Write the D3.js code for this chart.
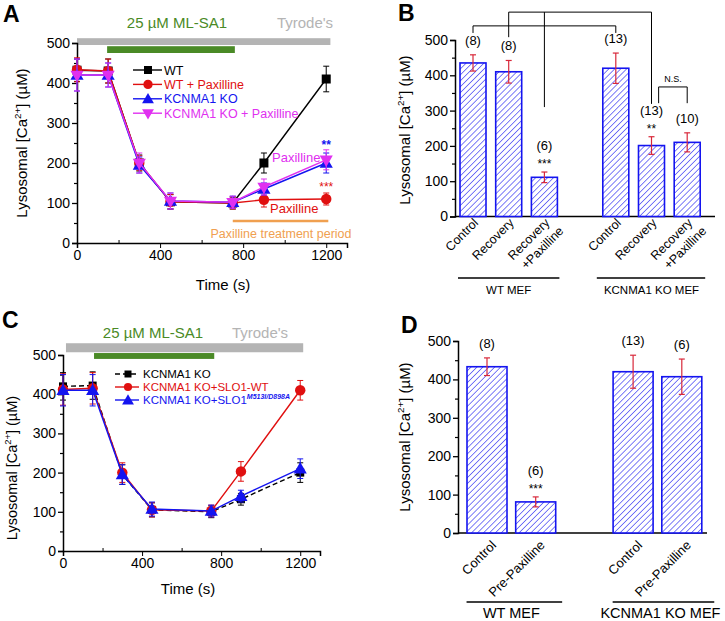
<!DOCTYPE html>
<html><head><meta charset="utf-8">
<script src="https://cdn.jsdelivr.net/npm/d3@7"></script>
<style>
body{margin:0;background:#fff;}
svg{font-family:"Liberation Sans",Arial,sans-serif;}
</style></head>
<body>
<svg id="c" width="725" height="621"></svg>
<script>
// ---------- DATA ----------
const timeA = [0,150,300,450,750,900,1200];
const aWT      = [432,430,200,103,100,200,410];
const aWTerr   = [28,30,20,18,15,25,32];
const aWTPax   = [433,430,200,103,100,108,110];
const aWTPaxErr= [30,30,18,18,15,18,15];
const aKO      = [420,420,195,105,102,135,200];
const aKOerr   = [40,30,20,20,15,15,25];
const aKOPax   = [420,420,200,105,102,140,208];
const aKOPaxErr= [40,30,25,20,15,20,25];

const timeC = [0,150,300,450,750,900,1200];
const cKO     = [420,422,195,105,100,132,200];
const cKOerr  = [35,35,25,18,15,15,25];
const cWT     = [412,415,200,105,102,203,410];
const cWTerr  = [40,40,25,18,15,25,25];
const cMut    = [410,410,195,107,102,140,210];
const cMutErr = [40,40,25,18,15,15,25];

const bCats   = ["Control","Recovery","Recovery|+Paxilline","Control","Recovery","Recovery|+Paxilline"];
const bSlots  = [0,1,2,4,5,6];
const bVals   = [435,410,111,420,201,210];
const bErr    = [23,32,15,43,25,27];
const bN      = ["(8)","(8)","(6)","(13)","(13)","(10)"];
const bStars  = ["","","***","","**",""];

const dCats   = ["Control","Pre-Paxilline","Control","Pre-Paxilline"];
const dSlots  = [0,1,3,4];
const dVals   = [433,81,420,407];
const dErr    = [23,13,43,46];
const dN      = ["(8)","(6)","(13)","(6)"];
const dStars  = ["","***","",""];

const yTicks = [0,100,200,300,400,500];
const xTicks = [0,400,800,1200];

// ---------- COLORS ----------
const BLUE="#1414f0", RED="#e01010", MAG="#e030f0", BLACK="#000", GREEN="#4a8a26", GRAY="#b4b4b4", ORANGE="#f0a050", ERR="#d8283a";

const svg = d3.select("#c");
const defs = svg.append("defs");
const pat = defs.append("pattern").attr("id","hatch").attr("patternUnits","userSpaceOnUse")
  .attr("width",4.2).attr("height",4.2).attr("patternTransform","rotate(45)");
pat.append("rect").attr("width",4.2).attr("height",4.2).attr("fill","#fff");
pat.append("line").attr("x1",0).attr("y1",0).attr("x2",0).attr("y2",4.2).attr("stroke",BLUE).attr("stroke-width",1.1);

function ylabel(g, x, y, size){
  const t = g.append("text").attr("transform",`translate(${x},${y}) rotate(-90)`)
    .attr("text-anchor","middle").attr("font-size",size);
  t.append("tspan").text("Lysosomal [Ca");
  t.append("tspan").attr("font-size",size*0.65).attr("dy",-size*0.4).text("2+");
  t.append("tspan").attr("dy",size*0.4).text("] (\u00b5M)");
}

function yAxis(g, y, x0, fs){
  const ax = d3.axisLeft(y).tickValues(yTicks).tickSize(5).tickPadding(2);
  const ga = g.append("g").attr("transform",`translate(${x0},0)`).call(ax);
  ga.select(".domain").attr("stroke-width",1.5);
  ga.selectAll(".tick line").attr("stroke-width",1.3);
  ga.selectAll("text").attr("font-size",fs).attr("font-family","Liberation Sans, Arial").attr("fill","#000");
  const minor = d3.axisLeft(y).tickValues([50,150,250,350,450]).tickSize(3).tickFormat("");
  const gm = g.append("g").attr("transform",`translate(${x0},0)`).call(minor);
  gm.select(".domain").remove();
  gm.selectAll(".tick line").attr("stroke-width",1.2);
}

function marker(g, shape, x, y, color, size){
  if(shape==="sq") g.append("rect").attr("x",x-size/2).attr("y",y-size/2).attr("width",size).attr("height",size).attr("fill",color);
  else if(shape==="ci") g.append("circle").attr("cx",x).attr("cy",y).attr("r",size*0.58).attr("fill",color);
  else {
    const s = d3.symbol().type(d3.symbolTriangle).size(size*size*0.75)();
    g.append("path").attr("d",s).attr("transform",`translate(${x},${y+ (shape==="td"?-0.5:1)}) rotate(${shape==="td"?180:0})`).attr("fill",color);
  }
}

function series(g, x, y, t, v, e, color, shape, size, dash, errColor){
  const line = d3.line().x((d,i)=>x(t[i])).y(d=>y(d));
  g.append("path").datum(v).attr("d",line).attr("fill","none").attr("stroke",color).attr("stroke-width",1.4)
    .attr("stroke-dasharray",dash||null);
  v.forEach((d,i)=>{
    const cx=x(t[i]);
    const eg=g.append("g").attr("stroke",errColor||color).attr("stroke-width",1);
    eg.append("line").attr("x1",cx).attr("x2",cx).attr("y1",y(d-e[i])).attr("y2",y(d+e[i]));
    eg.append("line").attr("x1",cx-3).attr("x2",cx+3).attr("y1",y(d-e[i])).attr("y2",y(d-e[i]));
    eg.append("line").attr("x1",cx-3).attr("x2",cx+3).attr("y1",y(d+e[i])).attr("y2",y(d+e[i]));
  });
  v.forEach((d,i)=>marker(g,shape,x(t[i]),y(d),color,size));
}

function lineAxesX(g, x, yPos, fs){
  const ax = d3.axisBottom(x).tickValues(xTicks).tickSize(5).tickPadding(2).tickFormat(d3.format("d"));
  const ga = g.append("g").attr("transform",`translate(0,${yPos})`).call(ax);
  ga.select(".domain").attr("stroke-width",1.5);
  ga.selectAll("text").attr("font-size",fs).attr("font-family","Liberation Sans, Arial").attr("fill","#000");
  const minor = d3.axisBottom(x).tickValues([200,600,1000]).tickSize(-3).tickFormat("");
  const gm = g.append("g").attr("transform",`translate(0,${yPos})`).call(minor);
  gm.select(".domain").remove();
}

// ================= PANEL A =================
(function(){
  const g = svg.append("g");
  const x = d3.scaleLinear().domain([0,1300]).range([77,347]);
  const y = d3.scaleLinear().domain([0,500]).range([243,43]);
  g.append("text").attr("x",3).attr("y",22).attr("font-size",23).attr("font-weight","bold").text("A");
  g.append("rect").attr("x",x(0)).attr("y",y(512)).attr("width",x(1220)-x(0)).attr("height",y(495)-y(512)).attr("fill",GRAY);
  g.append("rect").attr("x",x(145)).attr("y",y(492)).attr("width",x(760)-x(145)).attr("height",y(475)-y(492)).attr("fill",GREEN);
  g.append("text").attr("x",177).attr("y",28).attr("text-anchor","middle").attr("font-size",15).attr("fill",GREEN).text("25 \u00b5M ML-SA1");
  g.append("text").attr("x",305).attr("y",28).attr("text-anchor","middle").attr("font-size",15).attr("fill",GRAY).text("Tyrode's");
  yAxis(g,y,77,14);
  lineAxesX(g,x,243,14);
  ylabel(g,27,143,15);
  g.append("text").attr("x",223).attr("y",290).attr("text-anchor","middle").attr("font-size",15).text("Time (s)");
  series(g,x,y,timeA,aWT,aWTerr,BLACK,"sq",9);
  series(g,x,y,timeA,aWTPax,aWTPaxErr,RED,"ci",9);
  series(g,x,y,timeA,aKO,aKOerr,BLUE,"tu",10);
  series(g,x,y,timeA,aKOPax,aKOPaxErr,MAG,"td",10);
  const leg=[["WT",BLACK,"sq"],["WT + Paxilline",RED,"ci"],["KCNMA1 KO",BLUE,"tu"],["KCNMA1 KO + Paxilline",MAG,"td"]];
  leg.forEach((l,i)=>{
    const yy=70+i*14.4;
    g.append("line").attr("x1",133).attr("x2",162).attr("y1",yy).attr("y2",yy).attr("stroke",l[1]).attr("stroke-width",1.4);
    marker(g,l[2],148,yy,l[1],l[2]==="ci"?8:(l[2]==="sq"?8:9));
    g.append("text").attr("x",164).attr("y",yy+4.5).attr("font-size",12.5).attr("fill",l[1]===BLACK?"#000":l[1]).text(l[0]);
  });
  g.append("text").attr("x",x(1200)).attr("y",149).attr("text-anchor","middle").attr("font-size",12).attr("font-weight","bold").attr("fill",BLUE).text("**");
  g.append("text").attr("x",272).attr("y",162).attr("font-size",13).attr("fill",MAG).text("Paxilline");
  g.append("text").attr("x",x(1200)).attr("y",191).attr("text-anchor","middle").attr("font-size",12).attr("fill",RED).text("***");
  g.append("text").attr("x",270).attr("y",213).attr("font-size",13).attr("fill",RED).text("Paxilline");
  g.append("line").attr("x1",x(750)).attr("x2",x(1210)).attr("y1",221).attr("y2",221).attr("stroke",ORANGE).attr("stroke-width",2.5);
  g.append("text").attr("x",281).attr("y",238).attr("text-anchor","middle").attr("font-size",12.5).attr("fill",ORANGE).text("Paxilline treatment period");
})();

// ================= PANEL C =================
(function(){
  const g = svg.append("g");
  const x = d3.scaleLinear().domain([0,1300]).range([63,320]);
  const y = d3.scaleLinear().domain([0,500]).range([551,355]);
  g.append("text").attr("x",2).attr("y",328).attr("font-size",23).attr("font-weight","bold").text("C");
  g.append("rect").attr("x",x(15)).attr("y",y(530)).attr("width",x(1215)-x(15)).attr("height",y(507)-y(530)).attr("fill",GRAY);
  g.append("rect").attr("x",x(157)).attr("y",y(505)).attr("width",x(765)-x(157)).attr("height",y(490)-y(505)).attr("fill",GREEN);
  g.append("text").attr("x",153).attr("y",338).attr("text-anchor","middle").attr("font-size",15).attr("fill",GREEN).text("25 \u00b5M ML-SA1");
  g.append("text").attr("x",260).attr("y",338).attr("text-anchor","middle").attr("font-size",15).attr("fill",GRAY).text("Tyrode's");
  yAxis(g,y,63,14);
  lineAxesX(g,x,551,14);
  ylabel(g,17,468,14.5);
  g.append("text").attr("x",188).attr("y",594).attr("text-anchor","middle").attr("font-size",15).text("Time (s)");
  series(g,x,y,timeC,cKO,cKOerr,BLACK,"sq",8,"5,3");
  series(g,x,y,timeC,cWT,cWTerr,RED,"ci",9,null);
  series(g,x,y,timeC,cMut,cMutErr,BLUE,"tu",10,null);
  const leg=[["KCNMA1 KO",BLACK,"sq","5,3"],["KCNMA1 KO+SLO1-WT",RED,"ci",null],["KCNMA1 KO+SLO1",BLUE,"tu",null]];
  leg.forEach((l,i)=>{
    const yy=374+i*13;
    g.append("line").attr("x1",115).attr("x2",139).attr("y1",yy).attr("y2",yy).attr("stroke",l[1]).attr("stroke-width",1.4).attr("stroke-dasharray",l[3]);
    marker(g,l[2],128,yy,l[1],l[2]==="tu"?9:7);
    const t=g.append("text").attr("x",143).attr("y",yy+4).attr("font-size",11.5).attr("fill",l[1]).text(l[0]);
    if(i===2) t.append("tspan").attr("font-size",7).attr("font-style","italic").attr("font-weight","bold").attr("dy",-5).text("M513I/D898A");
  });
})();

// ================= BAR PANELS =================
function barPanel(opt){
  const g = svg.append("g");
  const y = d3.scaleLinear().domain([0,500]).range([opt.y0,opt.y500]);
  const x = d3.scaleLinear().domain([0,1]).range([opt.c0,opt.c0+opt.step]);
  g.append("text").attr("x",opt.letterX).attr("y",opt.letterY).attr("font-size",23).attr("font-weight","bold").text(opt.letter);
  g.append("line").attr("x1",opt.ax0).attr("x2",opt.ax1).attr("y1",y(0)).attr("y2",y(0)).attr("stroke","#000").attr("stroke-width",1.5);
  yAxis(g,y,opt.ax0,14);
  ylabel(g,opt.ylx,opt.yly,15);
  opt.vals.forEach((v,i)=>{
    const cx=x(opt.slots[i]);
    g.append("rect").attr("x",cx-opt.bw/2).attr("y",y(v)).attr("width",opt.bw).attr("height",y(0)-y(v))
      .attr("fill","url(#hatch)").attr("stroke",BLUE).attr("stroke-width",1.6);
    const e=opt.err[i];
    const eg=g.append("g").attr("stroke",ERR).attr("stroke-width",1.2);
    eg.append("line").attr("x1",cx).attr("x2",cx).attr("y1",y(v-e)).attr("y2",y(v+e));
    eg.append("line").attr("x1",cx-3).attr("x2",cx+3).attr("y1",y(v-e)).attr("y2",y(v-e));
    eg.append("line").attr("x1",cx-3).attr("x2",cx+3).attr("y1",y(v+e)).attr("y2",y(v+e));
    const hasStar = opt.stars[i]!=="";
    const nY = y(v+e) - (hasStar?22:10);
    g.append("text").attr("x",cx).attr("y",nY).attr("text-anchor","middle").attr("font-size",13).text(opt.n[i]);
    if(hasStar) g.append("text").attr("x",cx).attr("y",y(v+e)-4).attr("text-anchor","middle").attr("font-size",12).text(opt.stars[i]);
    const parts = opt.cats[i].split("|");
    const t = g.append("text").attr("transform",`translate(${cx+opt.ldx},${y(0)+opt.ldy}) rotate(-45)`)
      .attr("text-anchor","end").attr("font-size",opt.lfs);
    t.append("tspan").attr("x",0).attr("y",0).text(parts[0]);
    if(parts[1]) t.append("tspan").attr("x",4).attr("dy","1.25em").text(parts[1]);
  });
  opt.groups.forEach(gr=>{
    const a=x(gr.s0)-opt.step*0.42, b=x(gr.s1)+opt.step*0.42;
    g.append("line").attr("x1",a+gr.dx0).attr("x2",b+gr.dx1).attr("y1",opt.gy).attr("y2",opt.gy).attr("stroke","#000").attr("stroke-width",1.5);
    g.append("text").attr("x",(a+b)/2+gr.tx).attr("y",opt.gy+opt.gty).attr("text-anchor","middle").attr("font-size",opt.gfs).text(gr.name);
  });
  return {g,x,y};
}

// ---- B ----
(function(){
  const {g,x,y} = barPanel({letter:"B",letterX:398,letterY:21,y0:216.5,y500:40,c0:473,step:35.7,ax0:455,ax1:715,
    ylx:410,yly:130,vals:bVals,err:bErr,slots:bSlots,n:bN,stars:bStars,cats:bCats,bw:26,ldx:6,ldy:7,lfs:12.5,
    gy:278,gty:16,gfs:11.5,
    groups:[{s0:0,s1:2,name:"WT MEF",dx0:0,dx1:0,tx:0},{s0:4,s1:6,name:"KCNMA1 KO MEF",dx0:-4,dx1:3,tx:0}]});
  const br = g.append("g").attr("stroke","#000").attr("stroke-width",1).attr("fill","none");
  const seg=(x1,v1,x2,v2)=>br.append("line").attr("x1",x(x1)).attr("y1",y(v1)).attr("x2",x(x2)).attr("y2",y(v2));
  seg(0,540,4,540); seg(0,540,0,520); seg(4,540,4,520);
  seg(1,579,5,579); seg(1,579,1,508); seg(2,579,2,310); seg(5,579,5,319);
  seg(5.2,367,6,367); seg(5.2,367,5.2,321); seg(6,367,6,321);
  g.append("text").attr("x",(x(5.2)+x(6))/2).attr("y",y(380)).attr("text-anchor","middle").attr("font-size",9).text("N.S.");
})();

// ---- D ----
barPanel({letter:"D",letterX:401,letterY:333,y0:533,y500:341,c0:487,step:48.7,ax0:458,ax1:707,
  ylx:410,yly:437,vals:dVals,err:dErr,slots:dSlots,n:dN,stars:dStars,cats:dCats,bw:40,ldx:10,ldy:13,lfs:13,
  gy:602,gty:16,gfs:14.5,
  groups:[{s0:0,s1:1,name:"WT MEF",dx0:0,dx1:6,tx:0},{s0:3,s1:4,name:"KCNMA1 KO MEF",dx0:0,dx1:12,tx:3}]});
</script>
</body></html>
